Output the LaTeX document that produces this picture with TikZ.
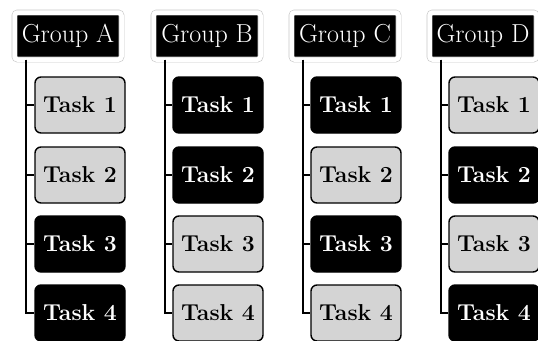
\documentclass[tikz,border=0pt]{standalone}
\usetikzlibrary{shadows}
\tikzset{
  group/.style={draw=black!22,line width=0.6pt,double=white,double distance=4.5pt,
    fill=black,text=white,rounded corners=3pt,
    minimum width=107pt,minimum height=47pt,inner sep=0pt,
    font=\rmfamily\fontsize{26}{28}\selectfont,
    drop shadow={shadow xshift=1.5pt,shadow yshift=-1.5pt,opacity=0.25,fill=black}},
  task/.style={draw=black,line width=1.4pt,rounded corners=6pt,minimum width=90pt,
    minimum height=56pt,inner sep=0pt,font=\rmfamily\fontsize{23}{26}\selectfont\bfseries},
  light/.style={task,fill=black!17,text=black},
  dark/.style={task,fill=black,text=white},
  link/.style={line width=1.6pt,draw=black}
}
\begin{document}
\begin{tikzpicture}[x=1pt,y=-1pt]
  \fill[white] (0,0) rectangle (538,340);
  \useasboundingbox (0,0) rectangle (538,340);
  % groups
  \node[group] (gA) at (68,36) {Group A};
  \node[group] (gB) at (207,36) {Group B};
  \node[group] (gC) at (345,36) {Group C};
  \node[group] (gD) at (483,36) {Group D};
  % tasks of group A
  \node[light] (tA1) at (80,105) {Task 1};
  \node[light] (tA2) at (80,175) {Task 2};
  \node[dark] (tA3) at (80,244) {Task 3};
  \node[dark] (tA4) at (80,313) {Task 4};
  % tasks of group B
  \node[dark] (tB1) at (218,105) {Task 1};
  \node[dark] (tB2) at (218,175) {Task 2};
  \node[light] (tB3) at (218,244) {Task 3};
  \node[light] (tB4) at (218,313) {Task 4};
  % tasks of group C
  \node[dark] (tC1) at (356,105) {Task 1};
  \node[light] (tC2) at (356,175) {Task 2};
  \node[dark] (tC3) at (356,244) {Task 3};
  \node[light] (tC4) at (356,313) {Task 4};
  % tasks of group D
  \node[light] (tD1) at (494,105) {Task 1};
  \node[dark] (tD2) at (494,175) {Task 2};
  \node[light] (tD3) at (494,244) {Task 3};
  \node[dark] (tD4) at (494,313) {Task 4};
  % connectors
  \draw[link] ([xshift=12pt]gA.south west) |- (tA1.west);
  \draw[link] ([xshift=12pt]gA.south west) |- (tA2.west);
  \draw[link] ([xshift=12pt]gA.south west) |- (tA3.west);
  \draw[link] ([xshift=12pt]gA.south west) |- (tA4.west);
  \draw[link] ([xshift=12pt]gB.south west) |- (tB1.west);
  \draw[link] ([xshift=12pt]gB.south west) |- (tB2.west);
  \draw[link] ([xshift=12pt]gB.south west) |- (tB3.west);
  \draw[link] ([xshift=12pt]gB.south west) |- (tB4.west);
  \draw[link] ([xshift=12pt]gC.south west) |- (tC1.west);
  \draw[link] ([xshift=12pt]gC.south west) |- (tC2.west);
  \draw[link] ([xshift=12pt]gC.south west) |- (tC3.west);
  \draw[link] ([xshift=12pt]gC.south west) |- (tC4.west);
  \draw[link] ([xshift=12pt]gD.south west) |- (tD1.west);
  \draw[link] ([xshift=12pt]gD.south west) |- (tD2.west);
  \draw[link] ([xshift=12pt]gD.south west) |- (tD3.west);
  \draw[link] ([xshift=12pt]gD.south west) |- (tD4.west);
\end{tikzpicture}
\end{document}
